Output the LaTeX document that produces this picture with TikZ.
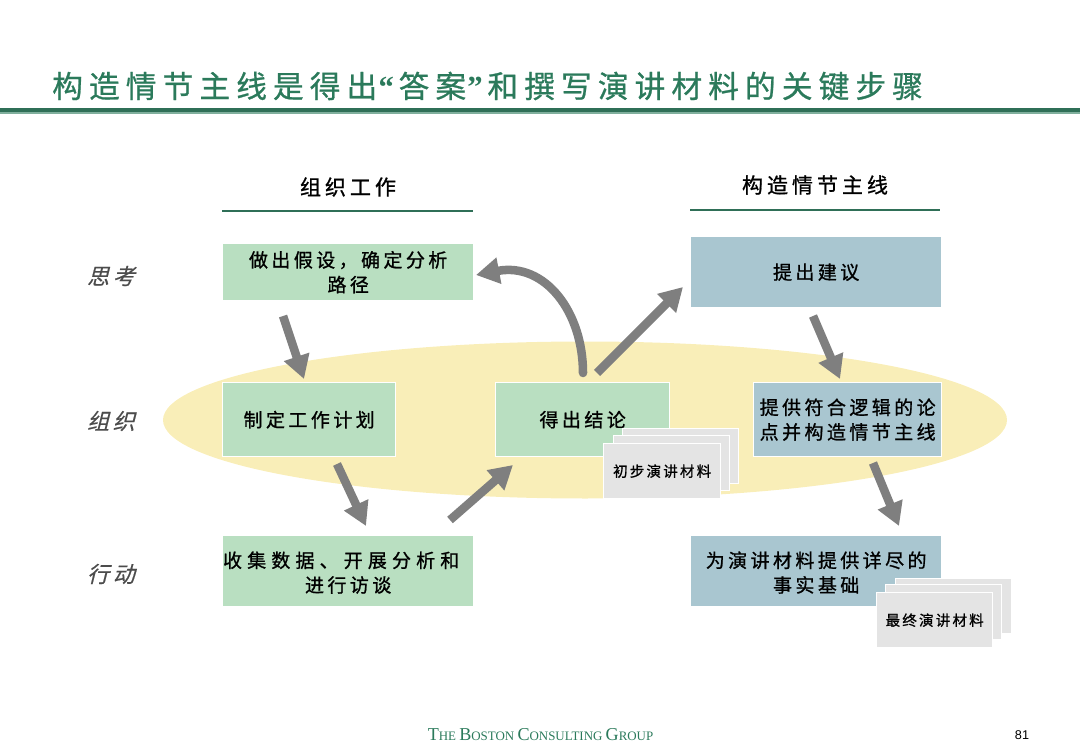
\documentclass[tikz,border=0pt]{standalone}
\usepackage{fontspec}
\usetikzlibrary{arrows.meta,shapes.geometric}
\setmainfont{Liberation Sans}
\newfontfamily\cjkA[LetterSpace=20,FakeBold=0.8]{Noto Sans CJK SC}
\newfontfamily\cjkB[LetterSpace=18,FakeBold=1]{Noto Sans CJK SC}
\newfontfamily\cjkW[LetterSpace=27,FakeBold=1]{Noto Sans CJK SC}
\newfontfamily\cjkP[LetterSpace=15,FakeBold=1]{Noto Sans CJK SC}
\newfontfamily\cjkC[LetterSpace=19,FakeBold=1]{Noto Sans CJK SC}
\newfontfamily\cjkI[LetterSpace=17,FakeSlant=0.25,FakeBold=0.5]{Noto Sans CJK SC}
\newfontfamily\serifF{Liberation Serif}
\definecolor{bcg}{HTML}{2B7A5B}
\definecolor{bcgd}{HTML}{2F6F57}
\definecolor{gbx}{HTML}{B9DFC1}
\definecolor{bbx}{HTML}{A9C6D0}
\definecolor{yel}{HTML}{F9EEB8}
\definecolor{gry}{HTML}{7F7F7F}
\definecolor{pap}{HTML}{E4E4E4}
\tikzset{
  box/.style={draw=white,line width=1pt,inner sep=0pt,align=center,font=\cjkB\fontsize{14.25}{18.5}\selectfont,text=black},
  gbox/.style={box,fill=gbx},
  bbox/.style={box,fill=bbx},
  paper/.style={draw=white,line width=1pt,fill=pap,inner sep=0pt,align=center,font=\cjkP\fontsize{10.9}{13}\selectfont,text=black},
  head/.style={font=\cjkC\fontsize{15.75}{19}\selectfont,text=black,inner sep=0pt},
  rowlab/.style={font=\cjkI\fontsize{16.5}{19}\selectfont,text=black!70,inner sep=0pt},
  flow/.style={draw=gry,line width=6.4pt,-{Triangle[length=17.5pt,width=19pt]}},
  rule/.style={draw=bcgd,line width=1.5pt},
}
\newcommand{\bx}[6]{\node[#1,minimum width=#4*0.75pt,minimum height=#5*0.75pt,anchor=north west] (#2) at (#3) {#6};}
\newcommand{\dn}[1]{\raisebox{-2.25pt}[0.8em][0.2em]{#1}}
\begin{document}
\begin{tikzpicture}[x=0.75pt,y=-0.75pt]
\useasboundingbox (0,0) rectangle (1080,748);
% title
\node[font=\cjkA\fontsize{23}{27}\selectfont,text=bcg,inner sep=0pt,anchor=west] (title) at (52,86) {构造情节主线是得出\kern1pt{\serifF\bfseries“}\kern3.5pt 答案\kern1pt{\serifF\bfseries”}\kern3.5pt 和撰写演讲材料的关键步骤};
\coordinate (tl) at (0,110); \coordinate (tr) at (1080,110);
\coordinate (tlb) at (0,113); \coordinate (trb) at (1080,113);
\draw[draw=bcg!60,line width=1.5pt] (tlb) -- (trb);
\draw[draw=bcgd,line width=3pt] (tl) -- (tr);
% ellipse
\node[ellipse,fill=yel,draw=none,minimum width=844*0.75pt,minimum height=157*0.75pt,inner sep=0pt] (band) at (585,420) {};
% headers
\node[head] (h1) at (348,187) {组织工作};
\node[head] (h2) at (815,185) {构造情节主线};
\coordinate (h1a) at (222,211); \coordinate (h1b) at (473,211);
\coordinate (h2a) at (690,210); \coordinate (h2b) at (940,210);
\draw[rule] (h1a) -- (h1b);
\draw[rule] (h2a) -- (h2b);
% row labels
\node[rowlab] (r1) at (111,276) {思考};
\node[rowlab] (r2) at (111,421) {组织};
\node[rowlab] (r3) at (111,574) {行动};
% boxes
\bx{gbox}{a}{222,243}{251}{57}{做出假设，确定分析\\路径}
\bx{gbox}{b}{222,382}{173}{74}{制定工作计划}
\bx{gbox}{c}{222,535}{251}{71}{\dn{\cjkW\hspace*{-10.5pt}收集数据、开展分析和}\\\dn{进行访谈}}
\bx{gbox}{d}{495,382}{174}{74}{得出结论}
\bx{bbox}{e}{690,236}{251}{71}{提出建议}
\bx{bbox}{f}{753,382}{188}{74}{提供符合逻辑的论\\点并构造情节主线}
\bx{bbox}{g}{690,535}{251}{71}{\dn{为演讲材料提供详尽的}\\\dn{事实基础}}
% paper stacks
\bx{paper}{s1c}{622,428}{116}{55}{}
\bx{paper}{s1b}{613,435}{116}{55}{}
\bx{paper}{s1a}{603,443}{117}{55}{初步演讲材料}
\bx{paper}{s2c}{895,578}{116}{55}{}
\bx{paper}{s2b}{885,584}{116}{55}{}
\bx{paper}{s2a}{876,592}{116}{55}{最终演讲材料}
% arrows
\coordinate (p1) at (283,316); \coordinate (q1) at (304,379);
\coordinate (p2) at (337,464); \coordinate (q2) at (366,526);
\coordinate (p3) at (450,520); \coordinate (q3) at (513,465);
\coordinate (p4) at (583,373); \coordinate (q4) at (476,275);
\coordinate (p5) at (597,373); \coordinate (q5) at (683,287);
\coordinate (p6) at (813,316); \coordinate (q6) at (840,379);
\coordinate (p7) at (873,463); \coordinate (q7) at (899,526);
\draw[flow] (p1) -- (q1);
\draw[flow] (p2) -- (q2);
\draw[flow] (p3) -- (q3);
\draw[flow,line cap=round] (p4) .. controls (583,312) and (545,262) .. (q4);
\draw[flow] (p5) -- (q5);
\draw[flow] (p6) -- (q6);
\draw[flow] (p7) -- (q7);
% footer
\node[font=\serifF\fontsize{9.7}{12}\selectfont,text=bcg,inner sep=0pt] (logo) at (540.5,735) {{\fontsize{13.6}{14}\selectfont T}HE {\fontsize{13.6}{14}\selectfont B}OSTON {\fontsize{13.6}{14}\selectfont C}ONSULTING {\fontsize{13.6}{14}\selectfont G}ROUP};
\node[font=\fontsize{9.5}{11}\selectfont,text=black,inner sep=0pt] (page) at (1022,735) {81};
\end{tikzpicture}
\end{document}
